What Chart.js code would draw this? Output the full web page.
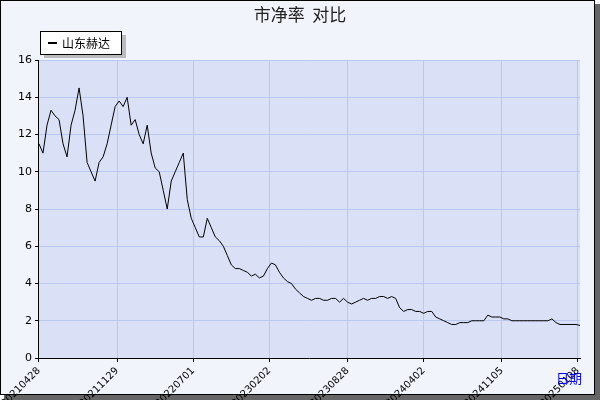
<!DOCTYPE html>
<html><head><meta charset="utf-8">
<script src="https://cdn.jsdelivr.net/npm/chart.js@4"></script>
<style>body{margin:0;background:#fff}#wrap{width:600px;height:400px}</style>
</head><body><div id="wrap"><canvas id="c" width="600" height="400"></canvas></div>
<script>
// price-to-book ratio, sampled roughly every 4px across the plot
const pbValues = [11.5,11,12.5,13.3,13,12.8,11.5,10.8,12.5,13.3,14.5,13,10.5,10,9.5,10.5,10.8,11.5,12.5,13.5,
  13.8,13.5,14,12.5,12.8,12,11.5,12.5,11,10.2,10,9,8,9.5,10,10.5,11,8.5,7.5,7,
  6.5,6.5,7.5,7,6.5,6.3,6,5.5,5,4.8,4.8,4.7,4.6,4.4,4.5,4.3,4.4,4.8,5.1,5,
  4.6,4.3,4.1,4,3.7,3.5,3.3,3.2,3.1,3.2,3.2,3.1,3.1,3.2,3.2,3,3.2,3,2.9,3,
  3.1,3.2,3.1,3.2,3.2,3.3,3.3,3.2,3.3,3.2,2.7,2.5,2.6,2.6,2.5,2.5,2.4,2.5,2.5,2.2,
  2.1,2,1.9,1.8,1.8,1.9,1.9,1.9,2,2,2,2,2.3,2.2,2.2,2.2,2.1,2.1,2,2,
  2,2,2,2,2,2,2,2,2.1,1.9,1.8,1.8,1.8,1.8,1.8,1.75];
const tickPositions = [0,19.5,38.5,57.5,77,96,115.5,134.5];
const tickLabels = ['20210428','20211129','20220701','20230202','20230828','20240402','20241105','20250108'];
const seriesName = '山东赫达';

const deco = {
  id: 'deco',
  beforeDraw(chart) {
    const c = chart.ctx, a = chart.chartArea;
    c.save();
    c.fillStyle = '#666'; c.fillRect(4, 4, 596, 396);
    c.fillStyle = '#f2f4fc'; c.fillRect(0, 0, 595, 395);
    c.strokeStyle = '#000'; c.lineWidth = 1; c.strokeRect(0.5, 0.5, 594, 394);
    c.fillStyle = '#dae0f6'; c.fillRect(a.left, a.top, a.right - a.left, a.bottom - a.top);
    c.restore();
  },
  afterDraw(chart) {
    const c = chart.ctx;
    c.save();
    c.fillStyle = '#222'; c.font = '17px "Noto Sans CJK SC"'; c.textAlign = 'center'; c.textBaseline = 'middle';
    c.fillText('市净率  对比', 300, 15);
    c.fillStyle = '#bbb'; c.fillRect(44, 35, 82, 23);
    c.fillStyle = '#fff'; c.fillRect(40, 31, 82, 24);
    c.strokeStyle = '#000'; c.strokeRect(40.5, 31.5, 81, 23);
    c.fillStyle = '#000'; c.fillRect(48, 42, 9, 2);
    c.textAlign = 'left'; c.font = '12px "Noto Sans CJK SC"';
    c.fillText(seriesName, 62, 43);
    c.fillStyle = '#0000ee'; c.font = '13px "Noto Sans CJK SC"';
    c.fillText('日期', 556, 378);
    c.restore();
  }
};

new Chart(document.getElementById('c'), {
  type: 'line',
  data: { datasets: [{ data: pbValues.map((v, i) => ({ x: i, y: v })), borderColor: '#000', borderWidth: 1, pointRadius: 0, tension: 0 }] },
  options: {
    responsive: false, animation: false,
    layout: { padding: { left: 6, top: 60, right: 20, bottom: 0 } },
    plugins: { legend: { display: false }, tooltip: { enabled: false } },
    scales: {
      x: {
        type: 'linear', min: 0, max: 135,
        afterBuildTicks: ax => { ax.ticks = tickPositions.map(v => ({ value: v })); },
        afterFit: ax => { ax.height = 42; },
        ticks: { autoSkip: false, minRotation: 45, maxRotation: 45, color: '#000', font: { size: 10, family: 'DejaVu Sans' },
          callback: (v, i) => tickLabels[i] },
        grid: { color: '#b8c8ee', drawTicks: true, tickLength: 4, tickColor: '#000' },
        border: { color: '#000' }
      },
      y: {
        min: 0, max: 16,
        ticks: { stepSize: 2, color: '#000', font: { size: 11, family: 'DejaVu Sans' } },
        grid: { color: '#b8c8ee', tickLength: 4, tickColor: '#000' },
        border: { color: '#000' }
      }
    }
  },
  plugins: [deco]
});
</script></body></html>
